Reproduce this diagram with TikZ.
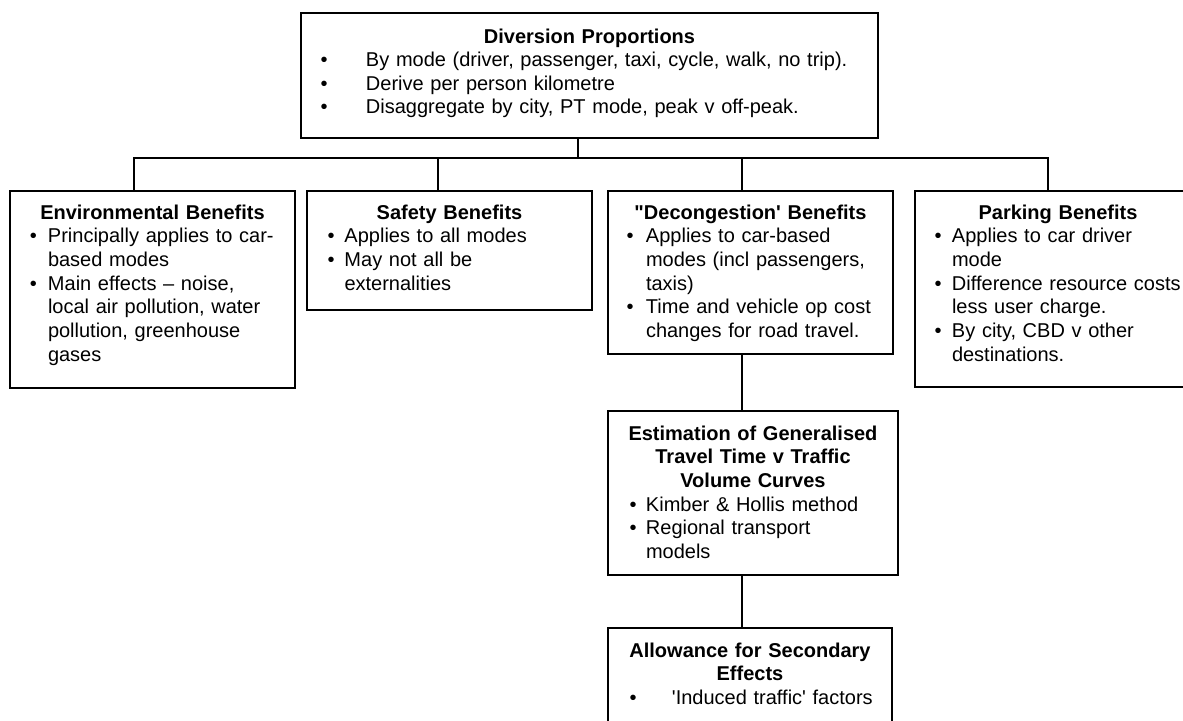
\documentclass[tikz,border=0pt]{standalone}
\usepackage{fontspec}
\setmainfont{Liberation Sans}
\newdimen\pxu \pxu=0.75pt
\newcommand{\sq}{\XeTeXglyph\XeTeXcharglyph"0027\relax}
\newcommand{\dq}{\XeTeXglyph\XeTeXcharglyph"0022\relax}
\newcommand{\itm}[3]{\par\leftskip=#1\pxu\noindent\llap{\makebox[#2\pxu][l]{\textbullet}}#3\par}
\newcommand{\ttl}[1]{{\centering\bfseries #1\par}}
\tikzset{
  panel/.style 2 args={draw, line width=1.1pt, rectangle, inner sep=0pt, outer sep=0pt,
    anchor=north west, minimum width=#1*0.75pt, minimum height=#2*0.75pt},
  txt/.style={anchor=base west, inner sep=0pt, outer sep=0pt, text width=#1*0.75pt, align=left,
    font=\fontsize{15pt}{17.75pt}\selectfont},
  wire/.style={draw, line width=1.1pt, line join=miter}
}
\begin{document}
\begin{tikzpicture}[x=0.75pt,y=-0.75pt]
\useasboundingbox (0,0) rectangle (1183,721);
\clip (0,0) rectangle (1183,721);
% boxes
\node[panel={577}{125}] (top) at (301,13) {};
\node[panel={285}{197}] (env) at (10,191) {};
\node[panel={285}{119}] (saf) at (307,191) {};
\node[panel={285}{163}] (dec) at (608,191) {};
\node[panel={286}{196}] (park) at (915,191) {};
\node[panel={290}{164}] (est) at (608,411) {};
\node[panel={284}{130}] (allow) at (608,628) {};
% texts
\node[txt=577] (topT) at (301,43) {\ttl{Diversion Proportions}%
  \itm{65}{45.5}{By mode (driver, passenger, taxi, cycle, walk, no trip).}%
  \itm{65}{45.5}{Derive per person kilometre}%
  \itm{65}{45.5}{Disaggregate by city, PT mode, peak v off-peak.}};
\node[txt=285] (envT) at (10,219) {\ttl{Environmental Benefits}%
  \itm{38}{18}{Principally applies to car-\\based modes}%
  \itm{38}{18}{Main effects – noise,\\local air pollution, water\\pollution, greenhouse\\gases}};
\node[txt=285] (safT) at (307,219) {\ttl{Safety Benefits}%
  \itm{37.5}{17}{Applies to all modes}%
  \itm{37.5}{17}{May not all be\\externalities}};
\node[txt=285] (decT) at (608,219) {\ttl{\dq Decongestion\sq{} Benefits}%
  \itm{38}{19.5}{Applies to car-based\\modes (incl passengers,\\taxis)}%
  \itm{38}{19.5}{Time and vehicle op cost\\changes for road travel.}};
\node[txt=286] (parkT) at (915,219) {\ttl{Parking Benefits}%
  \itm{37}{17.5}{Applies to car driver\\mode}%
  \itm{37}{17.5}{Difference resource costs\\less user charge.}%
  \itm{37}{17.5}{By city, CBD v other\\destinations.}};
\node[txt=290] (estT) at (608,440) {\ttl{Estimation of Generalised\\Travel Time v Traffic\\Volume Curves}%
  \itm{38}{16.5}{Kimber \& Hollis method}%
  \itm{38}{16.5}{Regional transport\\models}};
\node[txt=284] (allowT) at (608,657) {\ttl{Allowance for Secondary\\Effects}%
  \itm{64}{42.5}{\sq Induced traffic\sq{} factors}};
% junctions
\coordinate (jTop) at (578,158);
\coordinate (jEnv) at (134,158);
\coordinate (jSaf) at (438,158);
\coordinate (jDec) at (742,158);
\coordinate (jPark) at (1048,158);
% connectors
\draw[wire] (top.south -| jTop) -- (jTop);
\draw[wire] (env.north -| jEnv) -- (jEnv) -- (jPark) -- (park.north -| jPark);
\draw[wire] (jSaf) -- (saf.north -| jSaf);
\draw[wire] (jDec) -- (dec.north -| jDec);
\draw[wire] (dec.south -| jDec) -- (est.north -| jDec);
\draw[wire] (est.south -| jDec) -- (allow.north -| jDec);
\end{tikzpicture}
\end{document}
